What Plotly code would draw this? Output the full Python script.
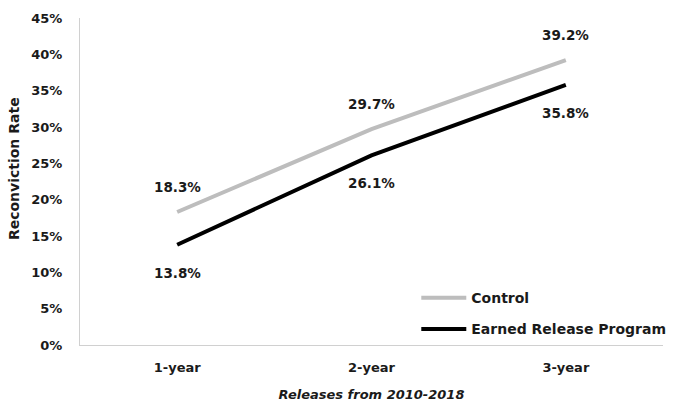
import plotly.graph_objects as go

categories = ["1-year", "2-year", "3-year"]
control = [18.3, 29.7, 39.2]
erp = [13.8, 26.1, 35.8]
y_ticks = [0, 5, 10, 15, 20, 25, 30, 35, 40, 45]
y_tick_labels = [f"{v}%" for v in y_ticks]

FONT = "DejaVu Sans"
TXT = "#1a1a1a"

fig = go.Figure()
fig.add_trace(go.Scatter(
    x=categories, y=control, mode="lines", name="Control", legendgroup="c",
    line=dict(color="#bdbdbd", width=4),
))
fig.add_trace(go.Scatter(
    x=categories, y=erp, mode="lines", name="Earned Release Program", legendgroup="e",
    line=dict(color="#000000", width=4),
))

annotations = []
for c, v in zip(categories, control):
    annotations.append(dict(x=c, y=v, text=f"{v}%", showarrow=False, yshift=25,
                            font=dict(family=FONT, size=13.5, color=TXT, weight="bold")))
for c, v in zip(categories, erp):
    annotations.append(dict(x=c, y=v, text=f"{v}%", showarrow=False, yshift=-28,
                            font=dict(family=FONT, size=13.5, color=TXT, weight="bold")))
annotations.append(dict(xref="paper", yref="paper", x=-0.112, y=0.54, xanchor="center",
                        yanchor="middle", textangle=-90, showarrow=False,
                        text="Reconviction Rate",
                        font=dict(family=FONT, size=14, color=TXT, weight="bold")))

fig.update_layout(
    width=678, height=406,
    margin=dict(l=80, r=15, t=18, b=61, autoexpand=False),
    paper_bgcolor="white", plot_bgcolor="white",
    font=dict(family=FONT, size=13, color=TXT),
    showlegend=True,
    annotations=annotations,
    legend=dict(xref="container", yref="container", x=0.614, y=0.15,
                xanchor="left", yanchor="bottom",
                font=dict(family=FONT, size=14, color=TXT, weight="bold"),
                bgcolor="rgba(0,0,0,0)", itemwidth=45, tracegroupgap=10),
    xaxis=dict(
        type="category", range=[-0.5, 2.5], automargin=False,
        showgrid=False, showline=True, linecolor="#d0d0d0", linewidth=1,
        ticks="", ticklabelstandoff=10,
        tickfont=dict(family=FONT, size=13, weight="bold"),
        title=dict(text="<i>Releases from 2010-2018</i>",
                   font=dict(family=FONT, size=13, weight="bold"), standoff=16),
    ),
    yaxis=dict(
        range=[0, 45], tickvals=y_ticks, ticktext=y_tick_labels, automargin=False,
        showgrid=False, showline=True, linecolor="#d0d0d0", linewidth=1,
        zeroline=False, ticks="", ticklabelstandoff=14,
        tickfont=dict(family=FONT, size=13, weight="bold"),
    ),
)

fig.write_html("out.html")
